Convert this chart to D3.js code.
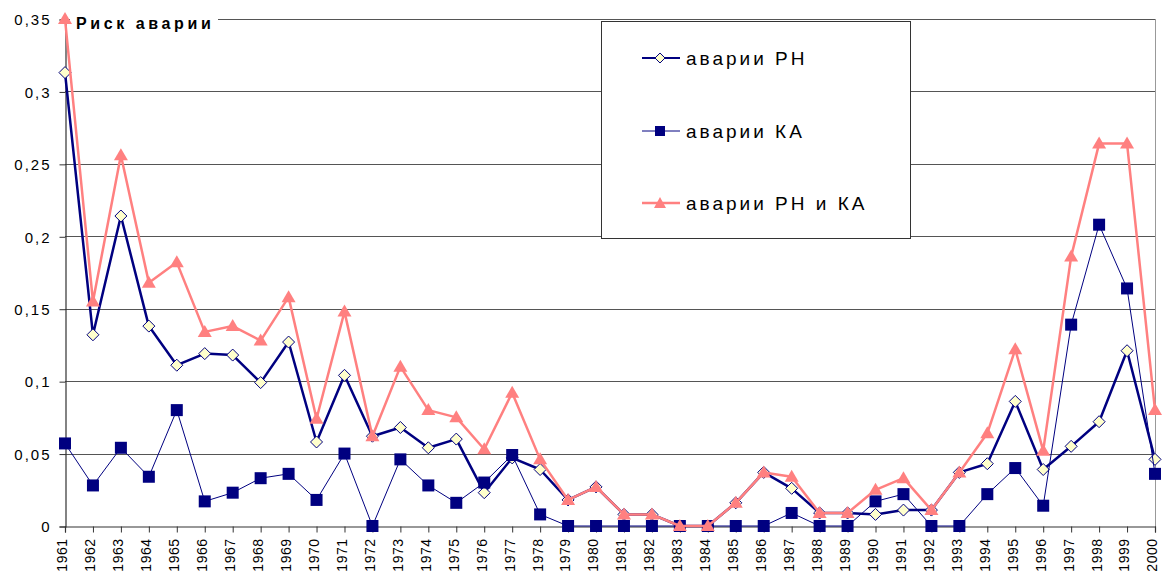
<!DOCTYPE html>
<html>
<head>
<meta charset="utf-8">
<script src="https://cdn.jsdelivr.net/npm/d3@7"></script>
<style>
  body { margin: 0; background: #fff; }
  svg { font-family: "Liberation Sans", Arial, sans-serif; }
</style>
</head>
<body>
<svg id="chart" width="1165" height="574"></svg>
<script>
// years on the x axis
var years = d3.range(1961, 2001);

// risk of launch vehicle accidents
var rn = [0.313, 0.132, 0.214, 0.138, 0.111, 0.119, 0.118, 0.099, 0.127, 0.058,
          0.104, 0.062, 0.068, 0.054, 0.060, 0.023, 0.047, 0.039, 0.018, 0.027,
          0.008, 0.008, 0.000, 0.000, 0.016, 0.037, 0.026, 0.009, 0.009, 0.008,
          0.011, 0.011, 0.037, 0.043, 0.086, 0.039, 0.055, 0.072, 0.121, 0.046];

// risk of spacecraft accidents
var ka = [0.057, 0.028, 0.054, 0.034, 0.080, 0.017, 0.023, 0.033, 0.036, 0.018,
          0.050, 0.000, 0.046, 0.028, 0.016, 0.030, 0.049, 0.008, 0.000, 0.000,
          0.000, 0.000, 0.000, 0.000, 0.000, 0.000, 0.009, 0.000, 0.000, 0.017,
          0.022, 0.000, 0.000, 0.022, 0.040, 0.014, 0.139, 0.208, 0.164, 0.036];

// risk of launch vehicle + spacecraft accidents
var both = [0.350, 0.155, 0.256, 0.168, 0.182, 0.134, 0.138, 0.128, 0.158, 0.074,
            0.148, 0.062, 0.110, 0.080, 0.075, 0.053, 0.092, 0.046, 0.018, 0.027,
            0.008, 0.008, 0.000, 0.000, 0.016, 0.037, 0.034, 0.009, 0.009, 0.025,
            0.033, 0.011, 0.037, 0.064, 0.122, 0.052, 0.186, 0.264, 0.264, 0.080];

var yTicks = [0, 0.05, 0.1, 0.15, 0.2, 0.25, 0.3, 0.35];
var seriesNames = ["аварии РН", "аварии КА", "аварии РН и КА"];

var svg = d3.select("#chart");

var x = d3.scaleLinear().domain([1961, 2000]).range([65, 1155]);
var y = d3.scaleLinear().domain([0, 0.35]).range([526, 19]);

var fmt = function(d) { return d === 0 ? "0" : String(d).replace(".", ","); };

//gridlines
svg.append("g")
  .selectAll("line")
  .data(yTicks.filter(function(d) { return d > 0; }))
  .enter().append("line")
    .attr("x1", x(1961)).attr("x2", x(2000))
    .attr("y1", function(d) { return Math.round(y(d)) + 0.5; })
    .attr("y2", function(d) { return Math.round(y(d)) + 0.5; })
    .attr("stroke", "#555")
    .attr("stroke-width", 1);

//right border of plot area
svg.append("line")
  .attr("x1", x(2000) + 0.5).attr("x2", x(2000) + 0.5)
  .attr("y1", y(0.35)).attr("y2", y(0) + 6)
  .attr("stroke", "#999");

//y axis
var yAxis = d3.axisLeft(y).tickValues(yTicks).tickSize(6).tickFormat(fmt);
var gy = svg.append("g")
  .attr("transform", "translate(" + (x(1961) + 0.5) + ",0.5)")
  .call(yAxis);
gy.select(".domain").attr("stroke", "#333").attr("stroke-width", 1.2);
gy.selectAll(".tick line").attr("stroke", "#333");
gy.selectAll(".tick text")
  .attr("x", -14)
  .attr("dy", "0.35em")
  .style("font-size", "15px")
  .style("letter-spacing", "2px")
  .attr("fill", "#000");

//x axis
var xAxis = d3.axisBottom(x).tickValues(years).tickSize(6).tickFormat(d3.format("d"));
var gx = svg.append("g")
  .attr("transform", "translate(0," + (y(0) + 0.5) + ")")
  .call(xAxis);
gx.select(".domain").attr("stroke", "#333").attr("stroke-width", 1.2);
gx.selectAll(".tick line").attr("stroke", "#333");
gx.selectAll(".tick text")
  .attr("transform", "translate(-3,12) rotate(-90)")
  .attr("x", 0).attr("y", 0)
  .attr("dy", "0.35em")
  .attr("text-anchor", "end")
  .style("font-size", "14px")
  .style("letter-spacing", "0.5px")
  .attr("fill", "#000");

//title with white background
svg.append("rect")
  .attr("x", 70).attr("y", 10).attr("width", 148).attr("height", 22)
  .attr("fill", "#fff");
svg.append("text")
  .attr("x", 76).attr("y", 29)
  .style("font-size", "16px")
  .style("font-weight", "bold")
  .style("letter-spacing", "3.6px")
  .text("Риск аварии");

var line = d3.line()
  .x(function(d, i) { return x(years[i]); })
  .y(function(d) { return y(d); });

// series 1: РН
svg.append("path")
  .datum(rn)
  .attr("fill", "none")
  .attr("stroke", "#000080")
  .attr("stroke-width", 2.5)
  .attr("stroke-linejoin", "round")
  .attr("d", line);

svg.append("g")
  .selectAll("path")
  .data(rn)
  .enter().append("path")
    .attr("transform", function(d, i) { return "translate(" + x(years[i]) + "," + y(d) + ")"; })
    .attr("d", "M0,-6L6,0L0,6L-6,0Z")
    .attr("fill", "#ffffcc")
    .attr("stroke", "#000080")
    .attr("stroke-width", 1);

// series 2: КА
svg.append("path")
  .datum(ka)
  .attr("fill", "none")
  .attr("stroke", "#000080")
  .attr("stroke-width", 1)
  .attr("d", line);

svg.append("g")
  .selectAll("rect")
  .data(ka)
  .enter().append("rect")
    .attr("x", function(d, i) { return x(years[i]) - 6; })
    .attr("y", function(d) { return y(d) - 6; })
    .attr("width", 12).attr("height", 12)
    .attr("fill", "#000080");

// series 3: РН и КА
svg.append("path")
  .datum(both)
  .attr("fill", "none")
  .attr("stroke", "#ff8080")
  .attr("stroke-width", 2.5)
  .attr("stroke-linejoin", "round")
  .attr("d", line);

svg.append("g")
  .selectAll("path")
  .data(both)
  .enter().append("path")
    .attr("transform", function(d, i) { return "translate(" + x(years[i]) + "," + y(d) + ")"; })
    .attr("d", "M0,-7L7,5L-7,5Z")
    .attr("fill", "#ff8080");

//legend
var legend = svg.append("g").attr("transform", "translate(601,21)");
legend.append("rect")
  .attr("x", 0.5).attr("y", 0.5).attr("width", 309).attr("height", 217)
  .attr("fill", "#fff")
  .attr("stroke", "#333");

var rows = [37, 110, 182];

// РН entry
legend.append("line").attr("x1", 41).attr("x2", 79).attr("y1", rows[0]).attr("y2", rows[0])
  .attr("stroke", "#000080").attr("stroke-width", 2);
legend.append("path").attr("transform", "translate(59," + rows[0] + ")")
  .attr("d", "M0,-5L5,0L0,5L-5,0Z").attr("fill", "#ffffcc").attr("stroke", "#000080");
// КА entry
legend.append("line").attr("x1", 41).attr("x2", 79).attr("y1", rows[1]).attr("y2", rows[1])
  .attr("stroke", "#000080").attr("stroke-width", 1);
legend.append("rect").attr("x", 54).attr("y", rows[1] - 5).attr("width", 10).attr("height", 10)
  .attr("fill", "#000080");
// РН и КА entry
legend.append("line").attr("x1", 41).attr("x2", 79).attr("y1", rows[2]).attr("y2", rows[2])
  .attr("stroke", "#ff8080").attr("stroke-width", 2.5);
legend.append("path").attr("transform", "translate(59," + rows[2] + ")")
  .attr("d", "M0,-6L6,5L-6,5Z").attr("fill", "#ff8080");

legend.selectAll("text.lbl")
  .data(seriesNames)
  .enter().append("text")
    .attr("class", "lbl")
    .attr("x", 85)
    .attr("y", function(d, i) { return rows[i] + 7; })
    .style("font-size", "19px")
    .style("letter-spacing", "3px")
    .text(function(d) { return d; });
</script>
</body>
</html>
